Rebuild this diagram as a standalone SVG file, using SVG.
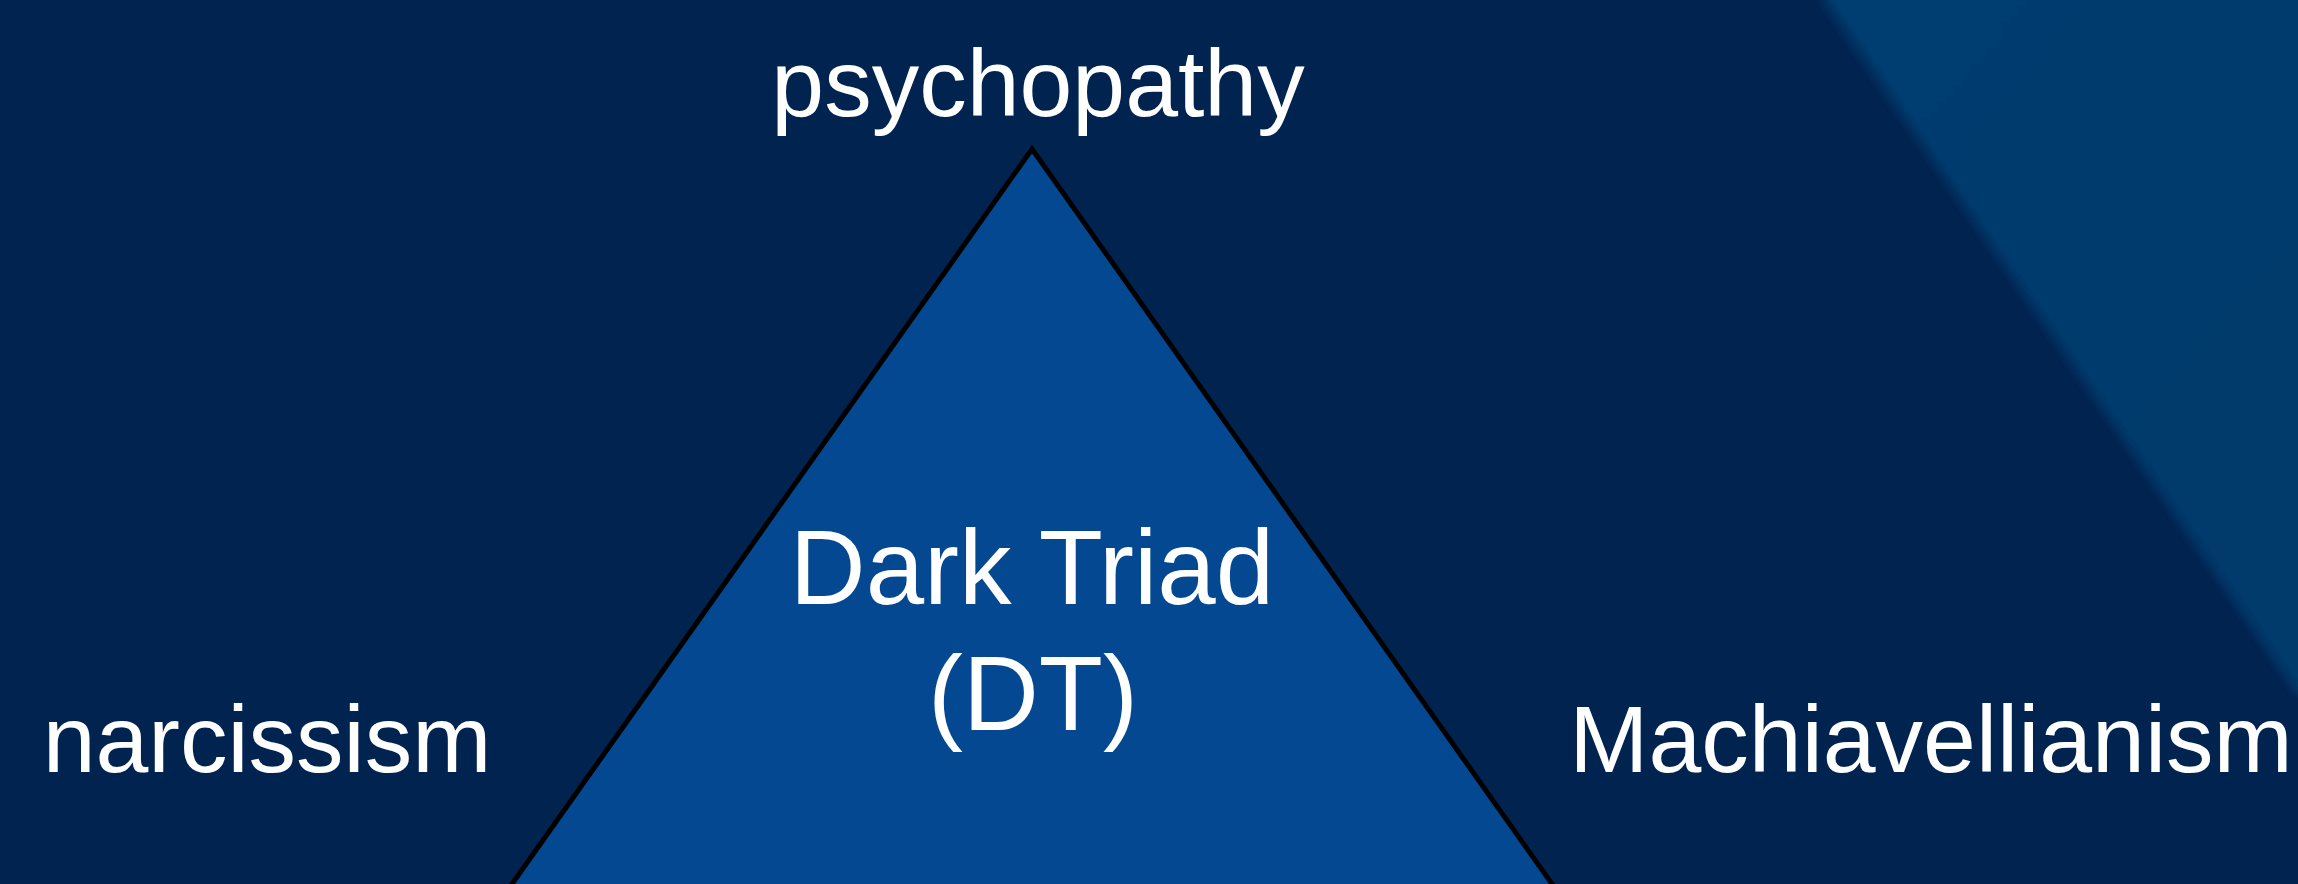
<svg xmlns="http://www.w3.org/2000/svg" width="2298" height="884" viewBox="0 0 2298 884">
  <defs>
    <linearGradient id="stripe" x1="1822" y1="0" x2="2298" y2="400" gradientUnits="userSpaceOnUse">
      <stop offset="0" stop-color="#003c70"/>
      <stop offset="1" stop-color="#013b6c"/>
    </linearGradient>
    <filter id="soft" x="-5%" y="-5%" width="110%" height="110%">
      <feGaussianBlur stdDeviation="3"/>
    </filter>
  </defs>
  <style>
    .lbl { font-family: "Liberation Sans", Arial, sans-serif; font-size: 95px; fill: #ffffff; }
    .center { font-family: "Liberation Sans", Arial, sans-serif; font-size: 105px; fill: #ffffff; text-anchor: middle; }
    .tri { fill: #044892; stroke: #000000; stroke-width: 5; stroke-linejoin: miter; }
  </style>
  <rect id="background" x="0" y="0" width="2298" height="884" fill="#01234f"/>
  <polygon id="stripe-shape" points="1820,-10 2320,-10 2320,722" fill="url(#stripe)" filter="url(#soft)"/>
  <line x1="1822" y1="0" x2="2298" y2="695" stroke="#0d4a80" stroke-width="6" stroke-opacity="0.35" filter="url(#soft)"/>
  <g id="connectors"></g>
  <g id="triangle">
    <polygon class="tri" points="1032,149 500,901 1564,901"/>
  </g>
  <g id="node-dt">
    <text class="center" x="1032" y="604">Dark Triad</text>
    <text class="center" x="1033" y="730">(DT)</text>
  </g>
  <g id="node-psychopathy">
    <text class="lbl" x="1038" y="116" text-anchor="middle">psychopathy</text>
  </g>
  <g id="node-narcissism">
    <text class="lbl" x="267" y="772" text-anchor="middle">narcissism</text>
  </g>
  <g id="node-machiavellianism">
    <text class="lbl" x="1931" y="772" text-anchor="middle">Machiavellianism</text>
  </g>
</svg>
